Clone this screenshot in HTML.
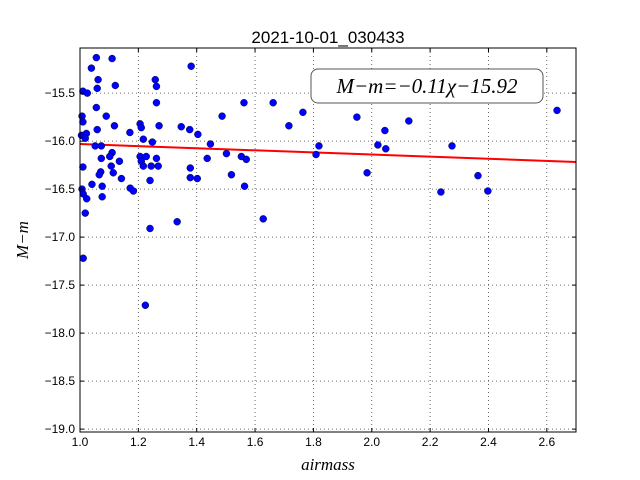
<!DOCTYPE html>
<html><head><meta charset="utf-8"><style>
html,body{margin:0;padding:0;background:#fff;}
svg{display:block;font-family:"Liberation Sans",sans-serif;}
</style></head><body>
<svg id="chart" width="640" height="480" xmlns="http://www.w3.org/2000/svg">
<rect x="0" y="0" width="640" height="480" fill="#fff"/>
<text x="328" y="43" font-size="17" text-anchor="middle">2021-10-01_030433</text>
<g id="grid"></g>
<g id="fit"></g>
<g id="points"></g>
<rect x="80" y="48" width="496" height="384" fill="none" stroke="#000" stroke-width="1"/>
<g id="ticks"></g>
<text x="328" y="470" font-size="17" font-style="italic" font-family="Liberation Serif,serif" text-anchor="middle">airmass</text>
<text transform="translate(28,240) rotate(-90)" font-size="17" font-style="italic" font-family="Liberation Serif,serif" text-anchor="middle">M−m</text>
<g>
<rect x="311" y="69" width="232" height="34" rx="7" ry="7" fill="#fff" stroke="#555" stroke-width="1"/>
<text x="427" y="93" font-size="21" font-style="italic" font-family="Liberation Serif,serif" text-anchor="middle">M−m=−0.11χ−15.92</text>
</g>
</svg>
<script>
const xTicks=[1.0,1.2,1.4,1.6,1.8,2.0,2.2,2.4,2.6];
const xTickLabels=["1.0","1.2","1.4","1.6","1.8","2.0","2.2","2.4","2.6"];
const yTicks=[-15.5,-16.0,-16.5,-17.0,-17.5,-18.0,-18.5,-19.0];
const yTickLabels=["−15.5","−16.0","−16.5","−17.0","−17.5","−18.0","−18.5","−19.0"];
const airmass=[1.056,1.110,1.039,1.381,1.062,1.258,1.262,1.059,1.121,1.01,1.025,1.262,1.562,1.662,1.056,1.007,1.01,1.090,1.487,1.118,1.206,1.210,1.271,1.347,1.376,1.404,1.005,1.022,1.018,1.059,1.171,1.217,1.248,1.447,1.052,1.073,1.110,1.102,1.073,1.206,1.227,1.210,1.262,1.135,1.502,1.436,1.553,1.570,1.01,1.107,1.217,1.244,1.268,1.071,1.066,1.114,1.378,1.142,1.378,1.402,1.240,1.519,1.041,1.007,1.076,1.564,1.172,1.183,1.011,1.023,1.076,1.018,1.333,1.240,1.628,1.011,1.224,1.764,1.716,1.819,1.809,1.949,1.984,2.021,2.045,2.048,2.127,2.237,2.275,2.364,2.398,2.635];
const mag=[-15.13,-15.14,-15.24,-15.22,-15.36,-15.36,-15.43,-15.45,-15.42,-15.48,-15.50,-15.60,-15.60,-15.60,-15.65,-15.74,-15.80,-15.74,-15.74,-15.84,-15.82,-15.86,-15.84,-15.85,-15.88,-15.93,-15.94,-15.92,-15.97,-15.88,-15.91,-15.98,-16.01,-16.03,-16.05,-16.05,-16.12,-16.16,-16.18,-16.16,-16.16,-16.21,-16.18,-16.21,-16.13,-16.18,-16.16,-16.19,-16.27,-16.26,-16.26,-16.26,-16.26,-16.32,-16.35,-16.33,-16.28,-16.39,-16.38,-16.39,-16.41,-16.35,-16.45,-16.50,-16.47,-16.47,-16.49,-16.52,-16.55,-16.60,-16.58,-16.75,-16.84,-16.91,-16.81,-17.22,-17.71,-15.70,-15.84,-16.05,-16.14,-15.75,-16.33,-16.04,-15.89,-16.08,-15.79,-16.53,-16.05,-16.36,-16.52,-15.68];
const fitSlope=-0.11;
const fitIntercept=-15.92;
const xDomain=[1.0,2.7];
const yDomain=[-19.03,-15.03];

const NS="http://www.w3.org/2000/svg";
const X0=80,X1=576,Y0=432,Y1=48;
function sx(v){return X0+(v-xDomain[0])/(xDomain[1]-xDomain[0])*(X1-X0);}
function sy(v){return Y0-(v-yDomain[0])/(yDomain[1]-yDomain[0])*(Y0-Y1);}
function mk(tag,attrs,parent){const e=document.createElementNS(NS,tag);for(const k in attrs)e.setAttribute(k,attrs[k]);parent.appendChild(e);return e;}
const grid=document.getElementById('grid'),ticks=document.getElementById('ticks');
xTicks.forEach((t,i)=>{
  const x=sx(t);
  const g=mk('line',{x1:x,x2:x,y1:Y1,y2:Y0,stroke:'#444','stroke-dasharray':'1,3','stroke-width':0.8},grid);
  
  
  mk('line',{x1:x,x2:x,y1:Y0,y2:Y0-4,stroke:'#000'},ticks);
  mk('line',{x1:x,x2:x,y1:Y1,y2:Y1+4,stroke:'#000'},ticks);
  const l=mk('text',{x:x,y:Y0+14,'font-size':12,'text-anchor':'middle'},ticks);
  
  
  l.textContent=xTickLabels[i];
});
yTicks.forEach((t,i)=>{
  const y=sy(t);
  const g=mk('line',{x1:X0,x2:X1,y1:y,y2:y,stroke:'#444','stroke-dasharray':'1,3','stroke-width':0.8},grid);
  
  
  mk('line',{x1:X0,x2:X0+4,y1:y,y2:y,stroke:'#000'},ticks);
  mk('line',{x1:X1,x2:X1-4,y1:y,y2:y,stroke:'#000'},ticks);
  const l=mk('text',{x:X0-5,y:y+4,'font-size':12,'text-anchor':'end'},ticks);
  
  
  l.textContent=yTickLabels[i];
});
const fit=document.getElementById('fit');
const fl=mk('line',{x1:sx(xDomain[0]),y1:sy(fitSlope*xDomain[0]+fitIntercept),x2:sx(xDomain[1]),y2:sy(fitSlope*xDomain[1]+fitIntercept),stroke:'#f00','stroke-width':2},fit);


const pts=document.getElementById('points');
airmass.forEach((a,i)=>{
  const c=mk('circle',{cx:sx(a),cy:sy(mag[i]),r:3.5,fill:'#0000ff',stroke:'#000','stroke-width':0.4},pts);
  
  
});
</script>
</body></html>
